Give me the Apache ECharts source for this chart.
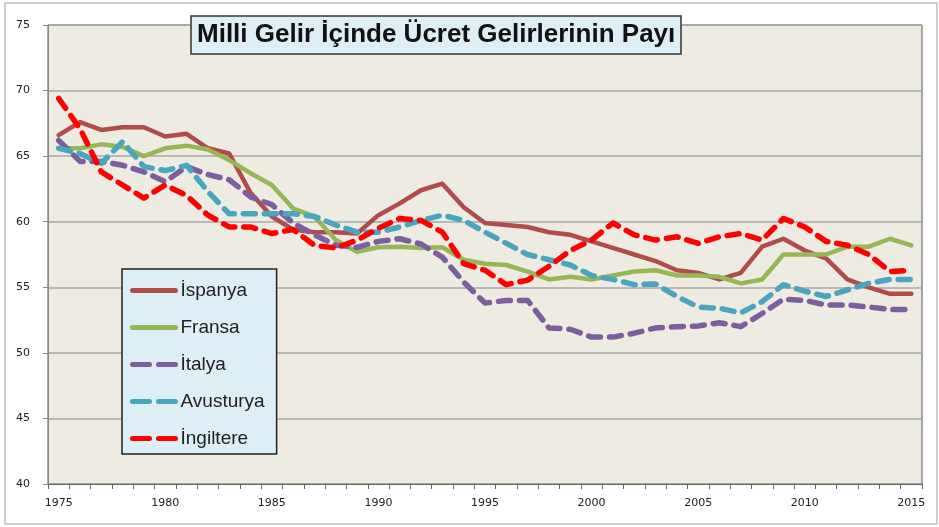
<!DOCTYPE html>
<html>
<head>
<meta charset="utf-8">
<script src="https://cdn.jsdelivr.net/npm/echarts@6/dist/echarts.min.js"></script>
<style>html,body{margin:0;padding:0;background:#fff}#c{width:939px;height:527px}</style>
</head>
<body>
<div id="c"></div>
<script>
const years = [];
for (let y = 1975; y <= 2015; y++) years.push(String(y));
const yTicks = [40, 45, 50, 55, 60, 65, 70, 75];

const ispanya = [66.6,67.6,67.0,67.2,67.2,66.5,66.7,65.6,65.2,62.2,60.4,59.4,59.2,59.2,59.1,60.5,61.4,62.4,62.9,61.1,59.9,59.75,59.6,59.2,59.0,58.5,58.0,57.5,57.0,56.3,56.1,55.6,56.1,58.1,58.7,57.8,57.2,55.6,55.0,54.5,54.5];
const fransa = [65.6,65.6,65.9,65.7,65.0,65.6,65.8,65.5,64.7,63.7,62.8,61.0,60.4,58.6,57.7,58.05,58.1,58.0,58.05,57.1,56.8,56.7,56.2,55.6,55.8,55.6,55.9,56.2,56.3,55.9,55.9,55.8,55.3,55.6,57.5,57.5,57.5,58.1,58.1,58.7,58.2];
const italya = [66.2,64.6,64.6,64.3,63.8,63.05,64.2,63.6,63.2,61.9,61.3,59.9,59.0,58.2,58.05,58.5,58.7,58.3,57.3,55.4,53.8,54.0,54.0,51.9,51.8,51.2,51.2,51.5,51.9,52.0,52.05,52.3,52.0,53.0,54.1,54.0,53.65,53.65,53.5,53.3,53.3];
const avusturya = [65.6,65.2,64.45,66.1,64.2,63.9,64.3,62.3,60.6,60.6,60.6,60.6,60.4,59.75,59.2,59.2,59.6,60.1,60.5,60.1,59.2,58.35,57.5,57.1,56.7,55.9,55.6,55.2,55.25,54.3,53.5,53.4,53.05,53.9,55.2,54.7,54.3,54.8,55.3,55.6,55.6];
const ingiltere = [69.4,67.1,63.8,62.8,61.8,62.8,62.0,60.5,59.6,59.6,59.1,59.4,58.2,58.0,58.6,59.5,60.25,60.1,59.2,56.8,56.3,55.2,55.55,56.6,57.8,58.6,59.9,59.0,58.6,58.85,58.35,58.85,59.1,58.6,60.25,59.6,58.5,58.2,57.5,56.2,56.3];

const seriesDefs = [
  {name: 'İspanya', data: ispanya, color: '#b24c4a', dash: 'solid'},
  {name: 'Fransa', data: fransa, color: '#97b655', dash: 'solid'},
  {name: 'İtalya', data: italya, color: '#7c5f9e', dash: [12, 9]},
  {name: 'Avusturya', data: avusturya, color: '#4aa6bf', dash: [12, 9]},
  {name: 'İngiltere', data: ingiltere, color: '#ff0000', dash: [12, 9]}
];

const chart = echarts.init(document.getElementById('c'));
chart.setOption({
  animation: false,
  backgroundColor: '#ffffff',
  title: {
    text: 'Milli Gelir İçinde Ücret Gelirlerinin Payı',
    left: 191, top: 16,
    padding: [6, 6, 6, 6],
    backgroundColor: '#ddeef4',
    borderColor: '#333',
    borderWidth: 1.5,
    textStyle: {fontFamily: 'Liberation Sans', fontWeight: 'bold', fontSize: 26, color: '#111'}
  },
  legend: {
    orient: 'vertical',
    left: 122, top: 269,
    padding: [12, 12, 6, 8],
    itemGap: 18,
    itemWidth: 43,
    itemHeight: 14,
    itemTextGap: 4,
    backgroundColor: '#ddeef4',
    borderColor: '#222',
    borderWidth: 1.5,
    itemStyle: {opacity: 0},
    lineStyle: {width: 5, cap: 'round'},
    textStyle: {fontFamily: 'Liberation Sans', fontSize: 19, color: '#222'},
    data: seriesDefs.map(s => s.dash === 'solid'
      ? {name: s.name}
      : {name: s.name, lineStyle: {type: [17, 9], width: 5, cap: 'round'}})
  },
  grid: {left: 48, top: 25, right: 17, bottom: 43, show: true, backgroundColor: '#eeebe3', borderColor: '#555', borderWidth: 1},
  xAxis: {
    type: 'category',
    data: years,
    boundaryGap: true,
    axisLine: {lineStyle: {color: '#666', width: 1}},
    axisTick: {show: true, interval: 0, length: 5, lineStyle: {color: '#666'}},
    axisLabel: {interval: (i) => i % 5 === 0, margin: 14, fontFamily: 'DejaVu Sans', fontSize: 11, color: '#222'}
  },
  yAxis: {
    type: 'value',
    min: yTicks[0], max: yTicks[yTicks.length - 1], interval: 5,
    axisLine: {show: true, lineStyle: {color: '#888', width: 1}},
    axisTick: {show: true, length: 5, lineStyle: {color: '#888'}},
    axisLabel: {margin: 18, fontFamily: 'DejaVu Sans', fontSize: 11, color: '#222'},
    splitLine: {lineStyle: {color: '#a8a8a8', width: 1.5}}
  },
  graphic: [{
    type: 'rect', silent: true, z: -10,
    shape: {x: 5, y: 3, width: 932, height: 521},
    style: {fill: 'none', stroke: '#c0c0c0', lineWidth: 1.5}
  }],
  series: seriesDefs.map(s => ({
    name: s.name,
    type: 'line',
    data: s.data,
    symbol: 'none',
    smooth: false,
    color: s.color,
    lineStyle: {color: s.color, width: s.dash === 'solid' ? 4.5 : 5.5, type: s.dash, cap: 'round', join: 'round'}
  }))
});
</script>
</body>
</html>
